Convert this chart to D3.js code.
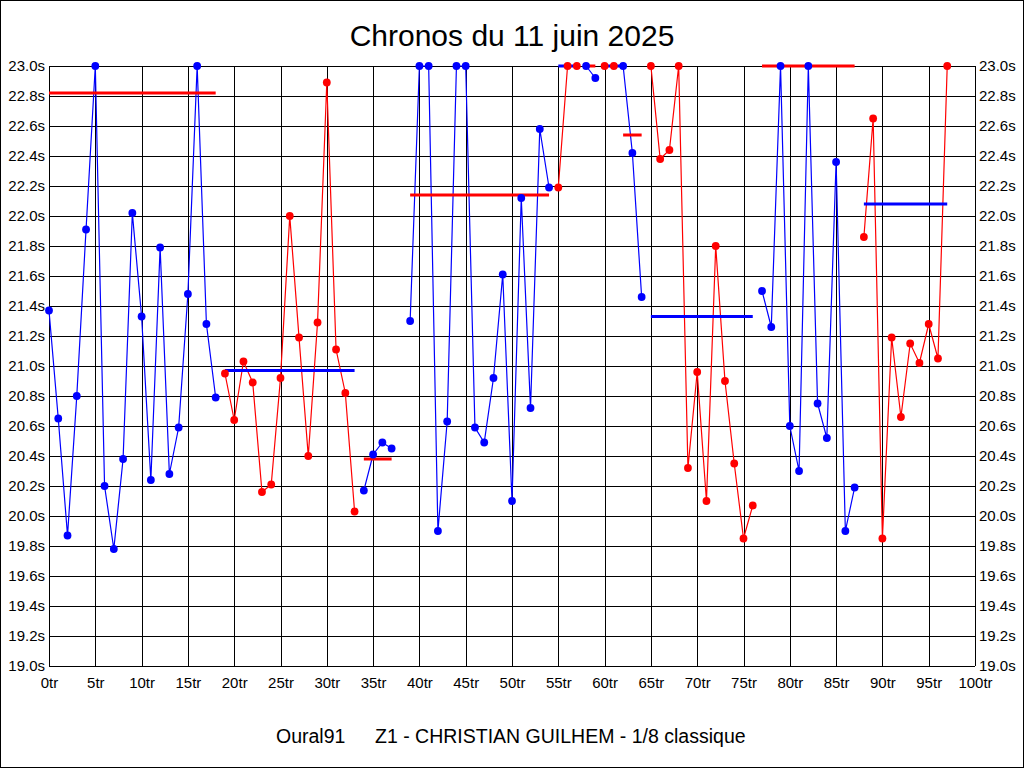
<!DOCTYPE html>
<html>
<head>
<meta charset="utf-8">
<script src="https://cdn.jsdelivr.net/npm/d3@7"></script>
<style>
  body { margin: 0; background: #fff; }
  svg { display: block; font-family: "Liberation Sans", Arial, sans-serif; }
  .axis text { font-size: 15px; fill: #000; }
  .axis path, .axis line { display: none; }
</style>
</head>
<body>
<svg id="chart" width="1024" height="768"></svg>
<script>
// laps (tr) where each run starts, and its laps times in seconds (>= 23.0 shown at 23.0)
const segStart = [0, 19, 34, 39, 55, 58, 60, 62, 65, 77, 88];
const segGroup = [0, 1, 0, 0, 1, 0, 1, 0, 1, 0, 1];
const segTimes = [
  [21.37, 20.65, 19.87, 20.80, 21.91, 23.0, 20.20, 19.78, 20.38, 22.02, 21.33, 20.24, 21.79, 20.28, 20.59, 21.48, 23.0, 21.28, 20.79],
  [20.95, 20.64, 21.03, 20.89, 20.16, 20.21, 20.92, 22.00, 21.19, 20.40, 21.29, 22.89, 21.11, 20.82, 20.03],
  [20.17, 20.41, 20.49, 20.45],
  [21.30, 23.0, 23.0, 19.90, 20.63, 23.0, 23.0, 20.59, 20.49, 20.92, 21.61, 20.10, 22.12, 20.72, 22.58, 22.19],
  [22.19, 23.0, 23.0],
  [23.0, 22.92],
  [23.0, 23.0],
  [23.0, 22.42, 21.46],
  [23.0, 22.38, 22.44, 23.0, 20.32, 20.96, 20.10, 21.80, 20.90, 20.35, 19.85, 20.07],
  [21.50, 21.26, 23.0, 20.60, 20.30, 23.0, 20.75, 20.52, 22.36, 19.90, 20.19],
  [21.86, 22.65, 19.85, 21.19, 20.66, 21.15, 21.02, 21.28, 21.05, 23.0]
];
// mean of each run (clipped to 23.0) and the lap where its bar ends
const segAvg = [22.82, 20.97, 20.38, 22.14, 23.0, 23.0, 23.0, 22.54, 21.33, 23.0, 22.08];
const segAvgEnd = [18, 33, 37, 54, 57, 59, 62, 64, 76, 87, 97];

const xTicks = [0, 5, 10, 15, 20, 25, 30, 35, 40, 45, 50, 55, 60, 65, 70, 75, 80, 85, 90, 95, 100];
const yTicks = [19.0, 19.2, 19.4, 19.6, 19.8, 20.0, 20.2, 20.4, 20.6, 20.8, 21.0, 21.2, 21.4, 21.6, 21.8, 22.0, 22.2, 22.4, 22.6, 22.8, 23.0];

const title = 'Chronos du 11 juin 2025';
const footerLeft = 'Oural91';
const footerRight = 'Z1 - CHRISTIAN GUILHEM - 1/8 classique';

const W = 1024, H = 768;
const svg = d3.select('#chart');
const x = d3.scaleLinear().domain([0, 100]).range([49, 975]);
const y = d3.scaleLinear().domain([19, 23]).range([666, 66]);
const color = d3.scaleOrdinal().domain([0, 1]).range(['#0000ff', '#ff0000']);
const barColor = d3.scaleOrdinal().domain([0, 1]).range(['#ff0000', '#0000ff']);
const px = (v) => Math.round(v) + 0.5;

svg.append('rect').attr('x', 0.5).attr('y', 0.5).attr('width', W - 1).attr('height', H - 1)
  .attr('fill', '#fff').attr('stroke', '#000');

// grid
const grid = svg.append('g').attr('stroke', '#000').attr('stroke-width', 1).attr('shape-rendering', 'crispEdges');
grid.selectAll('line.h').data(yTicks).join('line').attr('class', 'h')
  .attr('x1', x(0)).attr('x2', x(100))
  .attr('y1', (d) => px(y(d))).attr('y2', (d) => px(y(d)));
grid.selectAll('line.v').data(xTicks).join('line').attr('class', 'v')
  .attr('x1', (d) => px(x(d))).attr('x2', (d) => px(x(d)))
  .attr('y1', y(23)).attr('y2', y(19));

// axes labels
const fmtY = (d) => d.toFixed(1) + 's';
svg.append('g').attr('class', 'axis').attr('transform', `translate(${x(0)},0)`)
  .call(d3.axisLeft(y).tickValues(yTicks).tickSize(0).tickPadding(4).tickFormat(fmtY));
svg.append('g').attr('class', 'axis').attr('transform', `translate(${x(100)},0)`)
  .call(d3.axisRight(y).tickValues(yTicks).tickSize(0).tickPadding(4).tickFormat(fmtY));
svg.append('g').attr('class', 'axis').attr('transform', `translate(0,${y(19)})`)
  .call(d3.axisBottom(x).tickValues(xTicks).tickSize(0).tickPadding(11).tickFormat((d) => d + 'tr'));

const segments = segStart.map((start, i) => ({
  group: segGroup[i],
  avg: segAvg[i],
  from: start,
  to: segAvgEnd[i],
  points: segTimes[i].map((t, k) => ({ lap: start + k, t }))
}));

const line = d3.line().x((d) => x(d.lap)).y((d) => y(d.t));

svg.append('g').selectAll('path').data(segments).join('path')
  .attr('d', (d) => line(d.points))
  .attr('fill', 'none')
  .attr('stroke', (d) => color(d.group))
  .attr('stroke-width', 1.2);

svg.append('g').selectAll('line').data(segments).join('line')
  .attr('x1', (d) => x(d.from)).attr('x2', (d) => x(d.to))
  .attr('y1', (d) => y(d.avg)).attr('y2', (d) => y(d.avg))
  .attr('stroke', (d) => barColor(d.group))
  .attr('stroke-width', 3);

svg.append('g').selectAll('g').data(segments).join('g')
  .attr('fill', (d) => color(d.group))
  .selectAll('circle').data((d) => d.points).join('circle')
  .attr('cx', (d) => x(d.lap)).attr('cy', (d) => y(d.t)).attr('r', 3.9);

svg.append('text').attr('x', 512).attr('y', 46).attr('text-anchor', 'middle')
  .attr('font-size', 30).text(title);
svg.append('text').attr('x', 276).attr('y', 743).attr('font-size', 19.5).text(footerLeft);
svg.append('text').attr('x', 375).attr('y', 743).attr('font-size', 19.5).text(footerRight);
</script>
</body>
</html>
